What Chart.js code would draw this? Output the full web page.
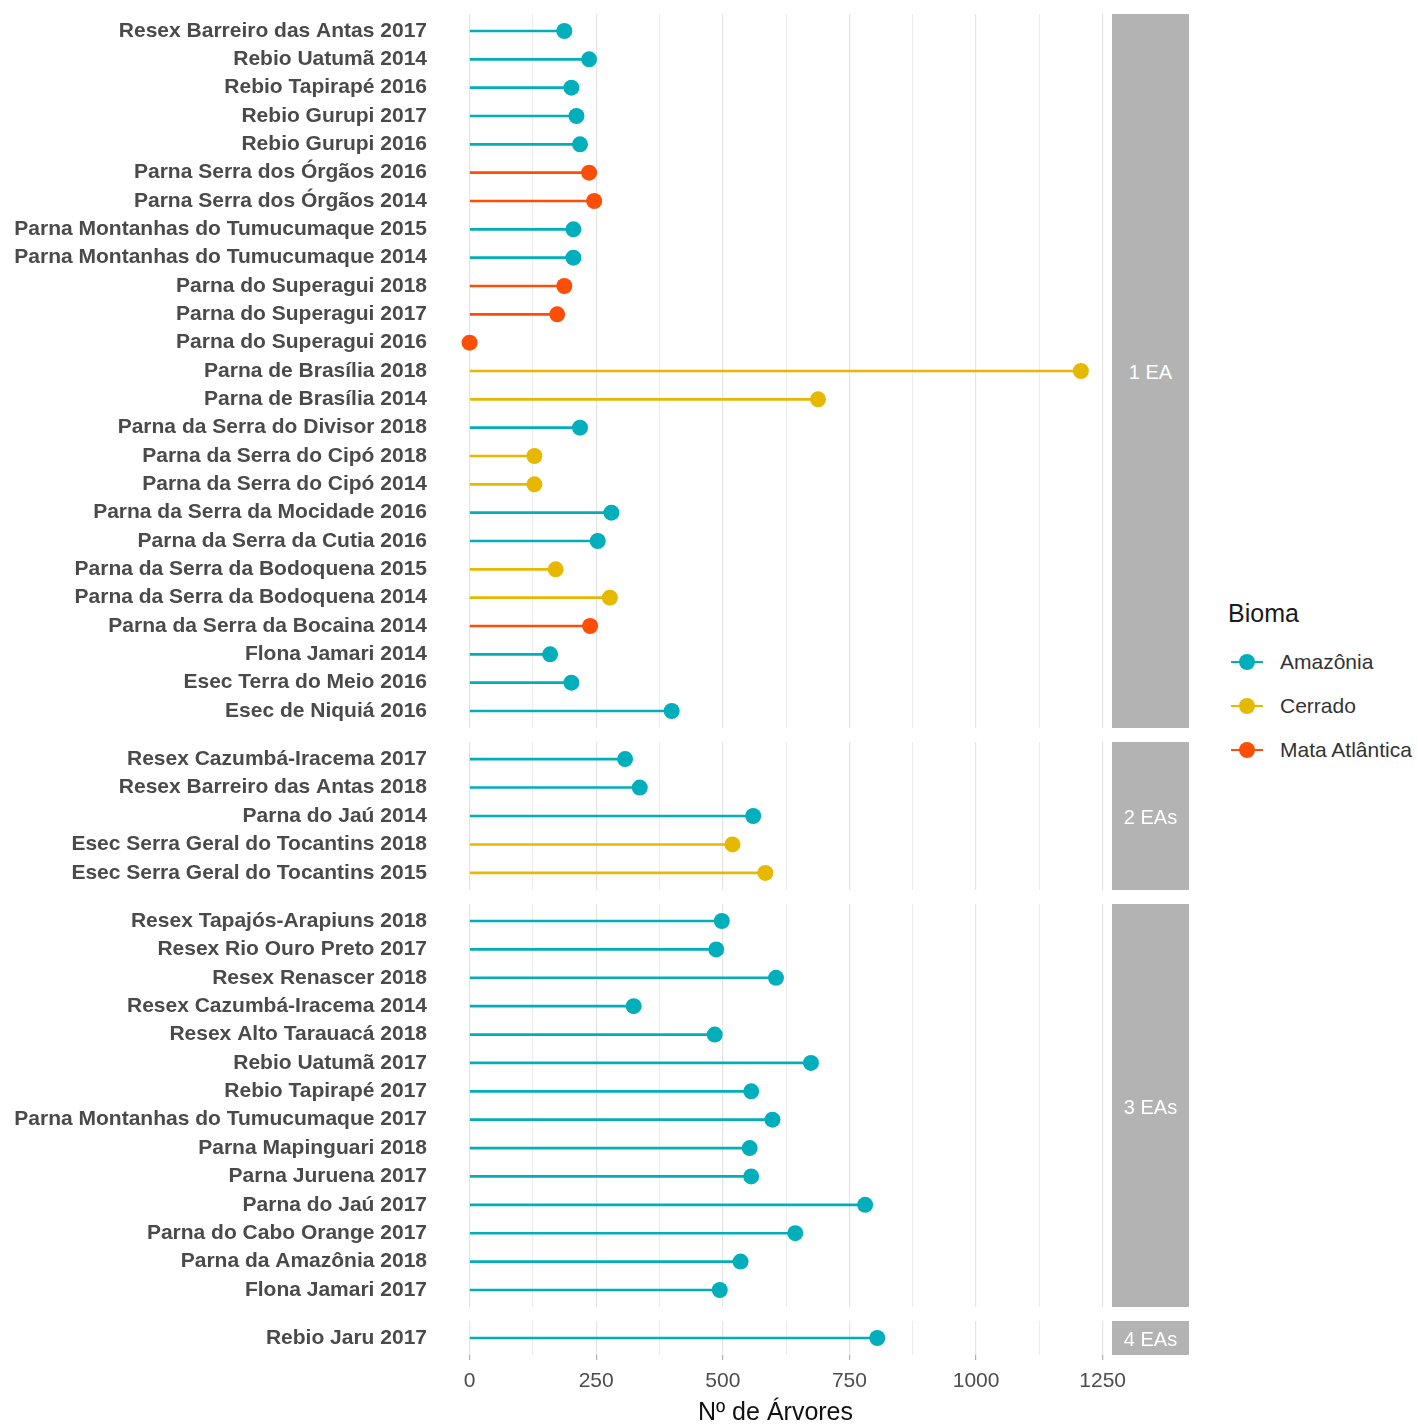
<!DOCTYPE html>
<html lang="pt-BR">
<head>
<meta charset="utf-8">
<title>Nº de Árvores por unidade de conservação</title>
<script src="https://cdn.jsdelivr.net/npm/chart.js@4.4.1/dist/chart.umd.min.js"></script>
<style>
  html, body { margin: 0; padding: 0; background: #fff; }
  #fig { position: relative; width: 1417px; height: 1424px; overflow: hidden;
         font-family: "Liberation Sans", Arial, sans-serif; }
  .panel { position: absolute; left: 0; }
  .strip { position: absolute; left: 1112px; width: 77px; background: #b3b3b3; color: #fff;
           font-size: 20px; display: flex; align-items: center; justify-content: center; z-index: 2;
           padding-top: 3px; box-sizing: border-box; }
  .leg-title { position: absolute; left: 1228px; top: 598px; font-size: 25px; line-height: 30px; color: #1a1a1a; }
  .leg-line { position: absolute; left: 1231px; width: 32px; height: 2px; }
  .leg-dot { position: absolute; left: 1239px; width: 16px; height: 16px; border-radius: 50%; }
  .leg-label { position: absolute; left: 1280px; font-size: 21px; line-height: 26px; color: #333; }
</style>
</head>
<body>
<div id="fig"></div>
<script>
// Facet "1 EA"
const p1Names = [
  "Resex Barreiro das Antas 2017", "Rebio Uatumã 2014", "Rebio Tapirapé 2016", "Rebio Gurupi 2017",
  "Rebio Gurupi 2016", "Parna Serra dos Órgãos 2016", "Parna Serra dos Órgãos 2014",
  "Parna Montanhas do Tumucumaque 2015", "Parna Montanhas do Tumucumaque 2014",
  "Parna do Superagui 2018", "Parna do Superagui 2017", "Parna do Superagui 2016",
  "Parna de Brasília 2018", "Parna de Brasília 2014", "Parna da Serra do Divisor 2018",
  "Parna da Serra do Cipó 2018", "Parna da Serra do Cipó 2014", "Parna da Serra da Mocidade 2016",
  "Parna da Serra da Cutia 2016", "Parna da Serra da Bodoquena 2015", "Parna da Serra da Bodoquena 2014",
  "Parna da Serra da Bocaina 2014", "Flona Jamari 2014", "Esec Terra do Meio 2016", "Esec de Niquiá 2016"
];
const p1Counts = [187, 236, 201, 211, 218, 236, 246, 205, 205, 187, 173, 0,
                  1207, 688, 218, 128, 128, 280, 253, 170, 277, 238, 159, 201, 399];
const p1Biomes = ["A", "A", "A", "A", "A", "M", "M", "A", "A", "M", "M", "M",
                  "C", "C", "A", "C", "C", "A", "A", "C", "C", "M", "A", "A", "A"];

// Facet "2 EAs"
const p2Names = [
  "Resex Cazumbá-Iracema 2017", "Resex Barreiro das Antas 2018", "Parna do Jaú 2014",
  "Esec Serra Geral do Tocantins 2018", "Esec Serra Geral do Tocantins 2015"
];
const p2Counts = [307, 336, 560, 519, 584];
const p2Biomes = ["A", "A", "A", "C", "C"];

// Facet "3 EAs"
const p3Names = [
  "Resex Tapajós-Arapiuns 2018", "Resex Rio Ouro Preto 2017", "Resex Renascer 2018",
  "Resex Cazumbá-Iracema 2014", "Resex Alto Tarauacá 2018", "Rebio Uatumã 2017",
  "Rebio Tapirapé 2017", "Parna Montanhas do Tumucumaque 2017", "Parna Mapinguari 2018",
  "Parna Juruena 2017", "Parna do Jaú 2017", "Parna do Cabo Orange 2017",
  "Parna da Amazônia 2018", "Flona Jamari 2017"
];
const p3Counts = [498, 487, 605, 324, 484, 674, 556, 598, 553, 556, 781, 643, 535, 494];
const p3Biomes = ["A", "A", "A", "A", "A", "A", "A", "A", "A", "A", "A", "A", "A", "A"];

// Facet "4 EAs"
const p4Names = ["Rebio Jaru 2017"];
const p4Counts = [805];
const p4Biomes = ["A"];

const stripLabels = ["1 EA", "2 EAs", "3 EAs", "4 EAs"];

const biomeKeys = ["A", "C", "M"];
const biomeNames = ["Amazônia", "Cerrado", "Mata Atlântica"];
const biomeColors = ["#00AFBB", "#E7B800", "#FC4E07"];

const xTickStep = 125;      // grid every 125, labels every 250
const xLabelStep = 250;
const xMin = -60.4, xMax = 1268.4;
const xTitle = "Nº de Árvores";
const legendTitle = "Bioma";

Chart.defaults.font.family = '"Liberation Sans", Arial, sans-serif';

const colorOf = b => biomeColors[biomeKeys.indexOf(b)];

const fig = document.getElementById('fig');
const CANVAS_W = 1160;
const PANEL_RIGHT = 1112;
const AXIS_LEFT = 439;
const FIG_BOTTOM = 1428;   // bottom canvas runs a little past the page edge

// panel boxes: top and height of the plotting area
const panels = [
  { names: p1Names, counts: p1Counts, biomes: p1Biomes, top: 14,   h: 714 },
  { names: p2Names, counts: p2Counts, biomes: p2Biomes, top: 742,  h: 148 },
  { names: p3Names, counts: p3Counts, biomes: p3Biomes, top: 904,  h: 403 },
  { names: p4Names, counts: p4Counts, biomes: p4Biomes, top: 1321, h: 34 }
];

panels.forEach((p, k) => {
  const isBottom = k === panels.length - 1;
  const axisH = isBottom ? FIG_BOTTOM - (p.top + p.h) : 0;
  const canvas = document.createElement('canvas');
  canvas.className = 'panel';
  canvas.width = CANVAS_W;
  canvas.height = p.h + axisH;
  canvas.style.width = CANVAS_W + 'px';
  canvas.style.height = (p.h + axisH) + 'px';
  canvas.style.top = p.top + 'px';
  fig.appendChild(canvas);

  const colors = p.biomes.map(colorOf);
  const n = p.names.length;

  new Chart(canvas, {
    type: 'bar',
    data: {
      datasets: [
        {
          type: 'scatter',
          order: 0,
          clip: false,
          data: p.counts.map((v, i) => ({ x: v, y: i })),
          pointRadius: 8,
          pointHoverRadius: 8,
          pointBackgroundColor: colors,
          pointBorderWidth: 0,
          borderWidth: 0
        },
        {
          type: 'bar',
          order: 1,
          indexAxis: 'y',
          data: p.counts.map((v, i) => ({ x: v, y: i })),
          backgroundColor: colors,
          borderWidth: 0,
          barThickness: 2
        }
      ]
    },
    options: {
      responsive: false,
      maintainAspectRatio: false,
      animation: false,
      indexAxis: 'y',
      layout: {
        autoPadding: false,
        padding: { left: 0, right: CANVAS_W - PANEL_RIGHT, top: 0, bottom: 0 }
      },
      plugins: { legend: { display: false }, tooltip: { enabled: false } },
      events: [],
      scales: {
        x: {
          type: 'linear',
          position: 'bottom',
          offset: false,
          min: xMin,
          max: xMax,
          border: { display: false },
          grid: {
            offset: false,
            color: c => (c.tick && c.tick.value % xLabelStep === 0) ? '#e4e4e4' : '#ececec',
            lineWidth: c => (c.tick && c.tick.value % xLabelStep === 0) ? 1.2 : 1,
            drawTicks: isBottom,
            tickLength: 5,
            tickColor: c => (c.tick && c.tick.value % xLabelStep === 0) ? '#b0b0b0' : 'rgba(0,0,0,0)',
            tickWidth: 1.2
          },
          ticks: {
            display: isBottom,
            stepSize: xTickStep,
            includeBounds: false,
            autoSkip: false,
            maxRotation: 0,
            padding: 9,
            color: '#4d4d4d',
            font: { size: 21 },
            callback: v => (v % xLabelStep === 0 ? String(v) : '')
          },
          title: {
            display: isBottom,
            text: xTitle,
            color: '#111',
            font: { size: 25 },
            padding: { top: 0, bottom: 0 }
          },
          afterFit: s => { s.height = axisH; s.paddingLeft = 0; s.paddingRight = 0; }
        },
        y: {
          type: 'linear',
          reverse: true,
          offset: false,
          min: -0.6,
          max: n - 0.4,
          border: { display: false },
          grid: { display: false, drawTicks: false, offset: false },
          ticks: {
            stepSize: 1,
            includeBounds: false,
            autoSkip: false,
            padding: 12,
            color: '#4a4a4a',
            font: { size: 21, weight: 'bold' },
            callback: v => (Number.isInteger(v) && v >= 0 && v < n ? p.names[v] : '')
          },
          afterFit: s => { s.width = AXIS_LEFT; s.paddingTop = 0; s.paddingBottom = 0; }
        }
      }
    }
  });

  const strip = document.createElement('div');
  strip.className = 'strip';
  strip.style.top = p.top + 'px';
  strip.style.height = p.h + 'px';
  strip.textContent = stripLabels[k];
  fig.appendChild(strip);
});

// legend
const lt = document.createElement('div');
lt.className = 'leg-title';
lt.textContent = legendTitle;
fig.appendChild(lt);
biomeNames.forEach((name, i) => {
  const cy = 662 + i * 44;
  const line = document.createElement('div');
  line.className = 'leg-line';
  line.style.top = (cy - 1) + 'px';
  line.style.background = biomeColors[i];
  const dot = document.createElement('div');
  dot.className = 'leg-dot';
  dot.style.top = (cy - 8) + 'px';
  dot.style.background = biomeColors[i];
  const lab = document.createElement('div');
  lab.className = 'leg-label';
  lab.style.top = (cy - 13) + 'px';
  lab.textContent = name;
  fig.append(line, dot, lab);
});
</script>
</body>
</html>
